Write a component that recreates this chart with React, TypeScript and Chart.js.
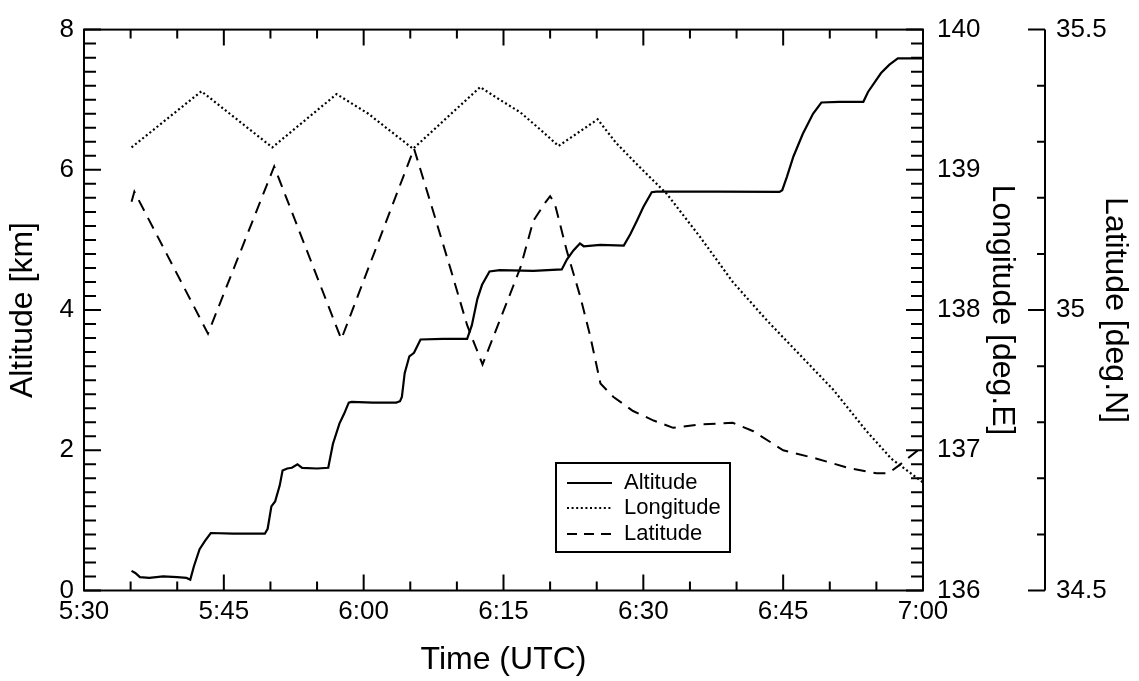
import React, { useEffect, useRef } from 'react';
import { Chart, registerables } from 'chart.js';

Chart.register(...registerables);

// Time in minutes after 00:00 UTC
const xTickLabels = ['5:30', '5:45', '6:00', '6:15', '6:30', '6:45', '7:00'];
const altTickLabels = ['0', '2', '4', '6', '8'];
const lonTickLabels = ['136', '137', '138', '139', '140'];
const latTickLabels = ['34.5', '35', '35.5'];

const altTime = [335.1, 335.5, 336.0, 337.0, 338.5, 340.0, 341.0, 341.4, 341.8, 342.4, 343.0, 343.6, 346.0, 349.4, 349.7, 350.1, 350.5, 351.0, 351.3, 351.8, 352.3, 352.9, 353.4, 355.0, 356.2, 356.7, 357.4, 357.9, 358.4, 358.7, 361.0, 363.5, 363.9, 364.1, 364.4, 364.9, 365.4, 366.1, 368.5, 371.1, 371.6, 372.2, 372.7, 373.5, 374.6, 378.2, 381.25, 381.8, 382.5, 383.2, 383.6, 385.4, 387.9, 388.6, 389.3, 390.0, 390.9, 391.4, 398.0, 404.6, 404.9, 405.4, 406.1, 407.1, 408.2, 409.1, 411.0, 413.6, 414.1, 415.5, 416.4, 417.3, 420.0];
const altKm = [0.28, 0.25, 0.19, 0.18, 0.2, 0.19, 0.18, 0.155, 0.35, 0.59, 0.71, 0.82, 0.81, 0.81, 0.88, 1.2, 1.27, 1.5, 1.71, 1.74, 1.75, 1.8, 1.75, 1.74, 1.75, 2.09, 2.38, 2.52, 2.68, 2.69, 2.68, 2.68, 2.7, 2.76, 3.1, 3.34, 3.39, 3.58, 3.59, 3.59, 3.78, 4.16, 4.36, 4.55, 4.57, 4.56, 4.58, 4.72, 4.85, 4.95, 4.91, 4.93, 4.92, 5.08, 5.27, 5.47, 5.68, 5.69, 5.69, 5.685, 5.71, 5.9, 6.19, 6.51, 6.8, 6.96, 6.97, 6.97, 7.11, 7.38, 7.5, 7.59, 7.59];

const lonTime = [335.1, 342.6, 350.2, 357.1, 360.5, 365.3, 372.5, 374.6, 376.8, 378.9, 380.9, 385.1, 387.1, 389.6, 392.5, 396.1, 399.6, 403.2, 406.8, 410.4, 413.9, 416.6, 420.0];
const lonDeg = [139.16, 139.56, 139.16, 139.54, 139.40, 139.15, 139.59, 139.50, 139.41, 139.29, 139.17, 139.36, 139.19, 139.02, 138.83, 138.52, 138.20, 137.93, 137.68, 137.43, 137.14, 136.94, 136.77];

const latTime = [335.1, 335.4, 343.3, 350.4, 357.6, 365.4, 367.2, 369.4, 371.1, 372.75, 374.4, 376.8, 378.2, 379.5, 380.0, 380.5, 381.8, 383.2, 384.3, 385.4, 386.8, 388.9, 391.1, 393.2, 396.1, 399.6, 401.8, 405.0, 408.6, 412.1, 415.0, 416.3, 417.5, 419.3, 420.0];
const latDeg = [35.193, 35.211, 34.958, 35.256, 34.948, 35.288, 35.19, 35.069, 34.973, 34.903, 34.973, 35.075, 35.159, 35.192, 35.203, 35.19, 35.105, 35.026, 34.954, 34.869, 34.845, 34.82, 34.803, 34.79, 34.796, 34.799, 34.784, 34.75, 34.735, 34.718, 34.709, 34.709, 34.724, 34.748, 34.753];

const FONT = "'Liberation Sans', Arial, Helvetica, sans-serif";

const frameAndLegend = {
  id: 'frameAndLegend',
  afterDatasetsDraw(chart: any) {
    const ctx = chart.ctx;
    const { left, right, top, bottom } = chart.chartArea;
    const xs = chart.scales.x;
    const ya = chart.scales.yAlt;
    const yl = chart.scales.yLon;
    const yt = chart.scales.yLat;
    ctx.save();
    ctx.strokeStyle = '#000';
    ctx.lineWidth = 2;
    ctx.lineCap = 'butt';
    ctx.setLineDash([]);
    ctx.strokeRect(left, top, right - left, bottom - top);
    ctx.beginPath();
    for (let m = 330; m <= 420; m += 5) {
      const px = xs.getPixelForValue(m);
      const len = m % 15 === 0 ? 16 : 9;
      ctx.moveTo(px, bottom);
      ctx.lineTo(px, bottom - len);
      ctx.moveTo(px, top);
      ctx.lineTo(px, top + len);
    }
    for (let i = 0; i <= 40; i++) {
      const py = ya.getPixelForValue(i * 0.2);
      const len = i % 10 === 0 ? 17 : 12;
      ctx.moveTo(left, py);
      ctx.lineTo(left + len, py);
    }
    for (let i = 0; i <= 40; i++) {
      const py = yl.getPixelForValue(136 + i * 0.1);
      const len = i % 10 === 0 ? 17 : 12;
      ctx.moveTo(right, py);
      ctx.lineTo(right - len, py);
    }
    const lx = yt.left;
    ctx.moveTo(lx, top);
    ctx.lineTo(lx, bottom);
    for (let i = 0; i <= 10; i++) {
      const py = yt.getPixelForValue(34.5 + i * 0.1);
      const len = i % 5 === 0 ? 17 : 8;
      ctx.moveTo(lx, py);
      ctx.lineTo(lx - len, py);
    }
    ctx.stroke();

    // legend
    const bx = 556, by = 463, bw = 174, bh = 89;
    ctx.fillStyle = '#fff';
    ctx.fillRect(bx, by, bw, bh);
    ctx.strokeRect(bx, by, bw, bh);
    ctx.font = `22px ${FONT}`;
    ctx.fillStyle = '#000';
    ctx.textBaseline = 'middle';
    ctx.textAlign = 'left';
    const rows = [483, 508, 534];
    const dashes = [[], [2, 2.6], [10, 7]];
    chart.data.datasets.forEach((ds: any, i: number) => {
      const ry = rows[i];
      ctx.beginPath();
      ctx.setLineDash(dashes[i]);
      ctx.lineWidth = 2;
      ctx.moveTo(567, ry);
      ctx.lineTo(612, ry);
      ctx.stroke();
      ctx.setLineDash([]);
      ctx.fillText(ds.label, 624, ry);
    });
    ctx.restore();
  },
};

export default function App() {
  const ref = useRef<HTMLCanvasElement>(null);
  useEffect(() => {
    if (!ref.current) return;
    Chart.defaults.font.family = FONT;
    Chart.defaults.color = '#000';
    const tickFont = { size: 26, family: FONT };
    const titleFont = { size: 32, family: FONT };
    const noGrid = { display: false, drawTicks: false };
    const noBorder = { display: false };
    const chart = new Chart(ref.current, {
      type: 'line',
      data: {
        datasets: [
          {
            label: 'Altitude',
            data: altTime.map((t, i) => ({ x: t, y: altKm[i] })),
            yAxisID: 'yAlt',
            borderColor: '#000',
            borderWidth: 2.2,
            pointRadius: 0,
            tension: 0,
          },
          {
            label: 'Longitude',
            data: lonTime.map((t, i) => ({ x: t, y: lonDeg[i] })),
            yAxisID: 'yLon',
            borderColor: '#000',
            borderWidth: 2.2,
            borderDash: [2, 2.6],
            pointRadius: 0,
            tension: 0,
          },
          {
            label: 'Latitude',
            data: latTime.map((t, i) => ({ x: t, y: latDeg[i] })),
            yAxisID: 'yLat',
            borderColor: '#000',
            borderWidth: 2,
            borderDash: [12, 8],
            pointRadius: 0,
            tension: 0,
          },
        ],
      },
      options: {
        responsive: false,
        animation: false,
        devicePixelRatio: 1,
        layout: { padding: { top: 21.5, left: 0, right: 0, bottom: 0 } },
        plugins: { legend: { display: false }, tooltip: { enabled: false } },
        scales: {
          x: {
            type: 'linear',
            position: 'bottom',
            min: 330,
            max: 420,
            grid: noGrid,
            border: noBorder,
            ticks: {
              stepSize: 15,
              font: tickFont,
              padding: 6,
              maxRotation: 0,
              autoSkip: false,
              callback: (_v: any, i: number) => xTickLabels[i],
            },
            title: { display: true, text: 'Time (UTC)', font: titleFont, padding: { top: 0, bottom: 1.8 } },
            afterFit: (s: any) => { s.height = 90.5; },
          },
          yAlt: {
            type: 'linear',
            position: 'left',
            min: 0,
            max: 8,
            grid: noGrid,
            border: noBorder,
            ticks: { stepSize: 2, font: tickFont, padding: 10, callback: (_v: any, i: number) => altTickLabels[i] },
            title: { display: true, text: 'Altitude [km]', font: titleFont, padding: { top: 4.4, bottom: 0 } },
            afterFit: (s: any) => { s.width = 84; },
          },
          yLon: {
            type: 'linear',
            position: 'right',
            weight: 1,
            min: 136,
            max: 140,
            grid: noGrid,
            border: noBorder,
            ticks: { stepSize: 1, font: tickFont, padding: 14, callback: (_v: any, i: number) => lonTickLabels[i] },
            title: { display: true, text: 'Longitude [deg.E]', font: titleFont, padding: { top: 23.8, bottom: 0 } },
            afterFit: (s: any) => { s.width = 122; },
          },
          yLat: {
            type: 'linear',
            position: 'right',
            weight: 2,
            min: 34.5,
            max: 35.5,
            grid: noGrid,
            border: noBorder,
            ticks: { stepSize: 0.5, font: tickFont, padding: 11, callback: (_v: any, i: number) => latTickLabels[i] },
            title: { display: true, text: 'Latitude [deg.N]', font: titleFont, padding: { top: 4.8, bottom: 0 } },
            afterFit: (s: any) => { s.width = 94; },
          },
        },
      },
      plugins: [frameAndLegend],
    } as any);
    return () => chart.destroy();
  }, []);
  return (
    <div style={{ position: 'absolute', left: 0, top: 0, width: 1139, height: 681, background: '#fff' }}>
      <canvas ref={ref} width={1139} height={681} style={{ display: 'block' }} />
    </div>
  );
}
